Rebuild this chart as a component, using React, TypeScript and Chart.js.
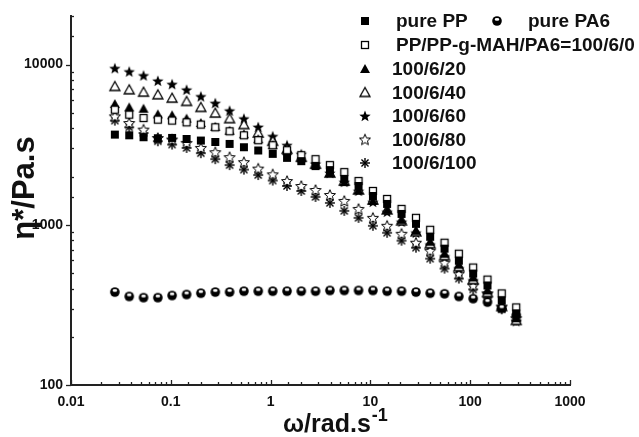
import React, { useEffect, useRef } from 'react';
import { Chart, registerables } from 'chart.js';

Chart.register(...registerables);

// angular frequency (rad/s)
const frequencies = [0.0275, 0.0383, 0.0533, 0.0742, 0.103, 0.144, 0.2, 0.279, 0.388, 0.54, 0.752, 1.05, 1.46, 2.03, 2.82, 3.93, 5.47, 7.61, 10.6, 14.7, 20.5, 28.6, 39.7, 55.3, 76.9, 107, 149, 207, 289];

// complex viscosity (Pa.s)
const purePP = [3659, 3623, 3521, 3471, 3486, 3436, 3358, 3291, 3199, 3051, 2911, 2773, 2618, 2497, 2326, 2196, 1931, 1747, 1514, 1350, 1170, 1014, 842, 710, 597, 496, 418, 337, 280];
const purePA6 = [380, 357, 351, 351, 362, 367, 374, 380, 380, 385, 385, 385, 385, 385, 385, 389, 389, 389, 389, 385, 385, 380, 374, 371, 357, 346, 329, 301, 272];
const blend100_6_0 = [5232, 4870, 4640, 4535, 4471, 4363, 4222, 4062, 3837, 3623, 3373, 3140, 2923, 2722, 2570, 2359, 2134, 1876, 1627, 1450, 1257, 1105, 931, 773, 660, 541, 455, 373, 305];
const blend100_6_20 = [5668, 5407, 5307, 4891, 4822, 4599, 4319, 4090, 3864, 3675, 3421, 3140, 2882, 2607, 2359, 2104, 1850, 1650, 1410, 1240, 1074, 918, 784, 660, 564, 469, 389, 314, 261];
const blend100_6_40 = [7302, 6965, 6730, 6484, 6176, 5891, 5407, 4983, 4599, 4222, 3744, 3325, 2965, 2645, 2393, 2104, 1876, 1650, 1430, 1240, 1059, 905, 762, 642, 548, 455, 378, 309, 253];
const blend100_6_60 = [9484, 9046, 8546, 7921, 7543, 6965, 6327, 5749, 5156, 4599, 4079, 3571, 3140, 2761, 2403, 2104, 1850, 1627, 1390, 1204, 1044, 892, 751, 633, 533, 449, 373, 305, 250];
const blend100_6_80 = [4753, 4319, 3930, 3485, 3407, 3245, 3021, 2840, 2645, 2462, 2243, 2065, 1876, 1747, 1650, 1536, 1410, 1257, 1105, 986, 879, 773, 690, 581, 496, 418, 373, 309, 261];
const blend100_6_100 = [4471, 4062, 3744, 3325, 3172, 3021, 2800, 2570, 2359, 2211, 2045, 1890, 1747, 1627, 1493, 1370, 1222, 1105, 986, 892, 796, 720, 615, 533, 462, 395, 352, 297, 253];

const seriesLabels = ['pure PP', 'pure PA6', 'PP/PP-g-MAH/PA6=100/6/0', '100/6/20', '100/6/40', '100/6/60', '100/6/80', '100/6/100'];
const seriesMarkers = ['filledSquare', 'bead', 'openSquare', 'filledTriangle', 'openTriangle', 'filledStar', 'openStar', 'asterisk'];
const seriesValues = [purePP, purePA6, blend100_6_0, blend100_6_20, blend100_6_40, blend100_6_60, blend100_6_80, blend100_6_100];

const xTickLabels = [0.01, 0.1, 1, 10, 100, 1000];
const yTickLabels = [100, 1000, 10000];

const FONT = "'Liberation Sans', Arial, Helvetica, sans-serif";

function starPath(g: CanvasRenderingContext2D, cx: number, cy: number, ro: number, ri: number) {
  g.beginPath();
  for (let i = 0; i < 10; i++) {
    const r = i % 2 === 0 ? ro : ri;
    const a = -Math.PI / 2 + (i * Math.PI) / 5;
    const px = cx + r * Math.cos(a);
    const py = cy + r * Math.sin(a);
    if (i === 0) g.moveTo(px, py);
    else g.lineTo(px, py);
  }
  g.closePath();
}

function makeMarker(kind: string): HTMLCanvasElement {
  const s = 16;
  const c = document.createElement('canvas');
  c.width = s;
  c.height = s;
  const g = c.getContext('2d') as CanvasRenderingContext2D;
  const m = s / 2;
  g.fillStyle = '#000';
  g.strokeStyle = '#000';
  g.lineWidth = 1.3;
  switch (kind) {
    case 'filledSquare':
      g.fillRect(m - 4, m - 4, 8, 8);
      break;
    case 'openSquare':
      g.fillStyle = '#fff';
      g.fillRect(m - 3.5, m - 3.5, 7, 7);
      g.strokeRect(m - 3.5, m - 3.5, 7, 7);
      break;
    case 'filledTriangle':
    case 'openTriangle':
      g.beginPath();
      g.moveTo(m, m - 5);
      g.lineTo(m + 5, m + 4);
      g.lineTo(m - 5, m + 4);
      g.closePath();
      if (kind === 'filledTriangle') {
        g.fill();
      } else {
        g.fillStyle = '#fff';
        g.fill();
        g.stroke();
      }
      break;
    case 'filledStar':
      starPath(g, m, m + 0.5, 6, 2.6);
      g.fill();
      break;
    case 'openStar':
      starPath(g, m, m + 0.5, 5.8, 2.6);
      g.fillStyle = '#fff';
      g.fill();
      g.lineWidth = 1;
      g.stroke();
      break;
    case 'asterisk':
      g.lineWidth = 1.4;
      for (let i = 0; i < 4; i++) {
        const a = (i * Math.PI) / 4;
        g.beginPath();
        g.moveTo(m - 5 * Math.cos(a), m - 5 * Math.sin(a));
        g.lineTo(m + 5 * Math.cos(a), m + 5 * Math.sin(a));
        g.stroke();
      }
      break;
    case 'bead':
      g.beginPath();
      g.arc(m, m, 4.8, 0, Math.PI * 2);
      g.fill();
      g.fillStyle = '#fff';
      g.beginPath();
      g.ellipse(m, m - 1.6, 2.3, 1.3, 0, 0, Math.PI * 2);
      g.fill();
      break;
  }
  return c;
}

function isPow10(v: number) {
  const l = Math.log10(v);
  return Math.abs(l - Math.round(l)) < 1e-6;
}

function matchLabel(v: number, list: number[]) {
  for (const t of list) {
    if (Math.abs(Math.log10(v) - Math.log10(t)) < 1e-6) return String(t);
  }
  return '';
}

export default function App() {
  const canvasRef = useRef<HTMLCanvasElement | null>(null);

  useEffect(() => {
    const canvas = canvasRef.current;
    if (!canvas) return;
    const markers = seriesMarkers.map((k) => makeMarker(k));

    const datasets = seriesValues.map((vals, i) => ({
      label: seriesLabels[i],
      data: frequencies.map((f, j) => ({ x: f, y: vals[j] })),
      pointStyle: markers[i] as any,
      pointRadius: 5,
      showLine: false,
      borderColor: '#000',
      backgroundColor: '#000',
    }));

    const ticksPlugin = {
      id: 'innerTicks',
      afterDraw(chart: any) {
        const ctx = chart.ctx as CanvasRenderingContext2D;
        const xs = chart.scales.x;
        const ys = chart.scales.y;
        const area = chart.chartArea;
        ctx.save();
        ctx.strokeStyle = '#222';
        ctx.lineWidth = 1.3;
        for (const t of xs.ticks) {
          const px = Math.round(xs.getPixelForValue(t.value)) + 0.5;
          const len = isPow10(t.value) ? 5 : 3;
          ctx.beginPath();
          ctx.moveTo(px, area.bottom);
          ctx.lineTo(px, area.bottom - len);
          ctx.stroke();
        }
        for (const t of ys.ticks) {
          const py = Math.round(ys.getPixelForValue(t.value)) + 0.5;
          ctx.beginPath();
          if (isPow10(t.value)) {
            ctx.moveTo(area.left, py);
            ctx.lineTo(area.left - 5, py);
          } else {
            ctx.moveTo(area.left, py);
            ctx.lineTo(area.left + 3, py);
          }
          ctx.stroke();
        }
        ctx.restore();
      },
    };

    const titlesPlugin = {
      id: 'axisTitles',
      afterDraw(chart: any) {
        const ctx = chart.ctx as CanvasRenderingContext2D;
        ctx.save();
        ctx.fillStyle = '#111';
        // y title
        ctx.translate(34, 188);
        ctx.rotate(-Math.PI / 2);
        ctx.font = `bold 31px ${FONT}`;
        ctx.textAlign = 'center';
        ctx.textBaseline = 'alphabetic';
        ctx.fillText('η*/Pa.s', 0, 0);
        ctx.restore();
        // x title
        ctx.save();
        ctx.fillStyle = '#111';
        ctx.font = `bold 25px ${FONT}`;
        ctx.textAlign = 'left';
        ctx.textBaseline = 'alphabetic';
        ctx.fillText('ω/rad.s', 283, 432);
        const w = ctx.measureText('ω/rad.s').width;
        ctx.font = `bold 18px ${FONT}`;
        ctx.fillText('-1', 283 + w + 1, 421);
        ctx.restore();
      },
    };

    const legendPos = [
      { mx: 365, tx: 396, y: 21 },
      { mx: 497, tx: 528, y: 21 },
      { mx: 365, tx: 396, y: 45 },
      { mx: 365, tx: 392, y: 69 },
      { mx: 365, tx: 392, y: 92.5 },
      { mx: 365, tx: 392, y: 116 },
      { mx: 365, tx: 392, y: 139.5 },
      { mx: 365, tx: 392, y: 163 },
    ];

    const legendPlugin = {
      id: 'customLegend',
      afterDraw(chart: any) {
        const ctx = chart.ctx as CanvasRenderingContext2D;
        ctx.save();
        ctx.fillStyle = '#111';
        ctx.font = `bold 19px ${FONT}`;
        ctx.textAlign = 'left';
        ctx.textBaseline = 'middle';
        chart.data.datasets.forEach((ds: any, i: number) => {
          const p = legendPos[i];
          const img = markers[i];
          ctx.drawImage(img, p.mx - img.width / 2, p.y - img.height / 2);
          ctx.fillText(ds.label, p.tx, p.y + 1);
        });
        ctx.restore();
      },
    };

    const chart = new Chart(canvas, {
      type: 'scatter',
      data: { datasets },
      options: {
        animation: false,
        responsive: false,
        events: [],
        layout: { padding: { left: 0, top: 14, right: 69, bottom: 0 } },
        plugins: {
          legend: { display: false },
          tooltip: { enabled: false },
          title: { display: false },
        },
        scales: {
          x: {
            type: 'logarithmic',
            min: 0.01,
            max: 1000,
            afterFit: (s: any) => {
              s.height = 52;
            },
            grid: { display: true, drawOnChartArea: false, drawTicks: false },
            border: { display: true, color: '#222', width: 2 },
            ticks: {
              autoSkip: false,
              maxRotation: 0,
              padding: 9,
              color: '#111',
              font: { family: FONT, size: 14, weight: 'bold' },
              callback: (v: any) => matchLabel(Number(v), xTickLabels),
            },
          },
          y: {
            type: 'logarithmic',
            min: 100,
            max: 20000,
            afterFit: (s: any) => {
              s.width = 71;
            },
            grid: { display: true, drawOnChartArea: false, drawTicks: false },
            border: { display: true, color: '#222', width: 2 },
            ticks: {
              autoSkip: false,
              padding: 8,
              color: '#111',
              font: { family: FONT, size: 14, weight: 'bold' },
              callback: (v: any) => matchLabel(Number(v), yTickLabels),
            },
          },
        },
      } as any,
      plugins: [ticksPlugin, titlesPlugin, legendPlugin],
    });

    return () => {
      chart.destroy();
    };
  }, []);

  return (
    <div style={{ position: 'absolute', left: 0, top: 0, width: 639, height: 437, background: '#fff' }}>
      <canvas ref={canvasRef} width={639} height={437} style={{ display: 'block' }} />
    </div>
  );
}
